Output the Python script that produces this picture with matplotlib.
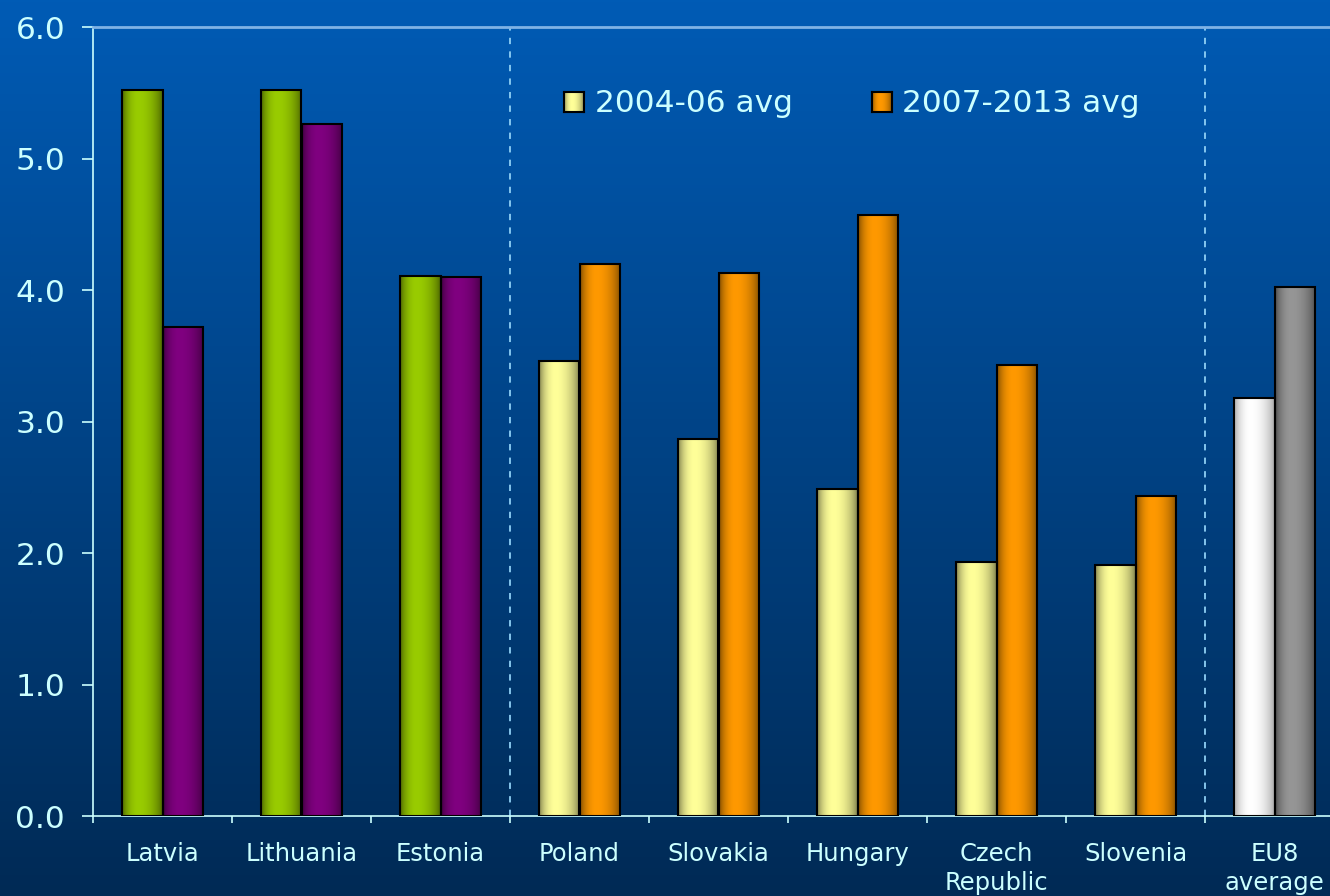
import numpy as np
import matplotlib
matplotlib.use("Agg")
import matplotlib.pyplot as plt
from matplotlib.colors import to_rgb

# ---- data ----
categories = ["Latvia", "Lithuania", "Estonia", "Poland", "Slovakia",
              "Hungary", "Czech\nRepublic", "Slovenia", "EU8\naverage"]
avg_2004_06 = [5.52, 5.52, 4.11, 3.46, 2.87, 2.49, 1.93, 1.91, 3.18]
avg_2007_13 = [3.72, 5.26, 4.10, 4.20, 4.13, 4.57, 3.43, 2.43, 4.02]
colors_a = ["#99CC00"] * 3 + ["#FFFF99"] * 5 + ["#FFFFFF"]
colors_b = ["#800080"] * 3 + ["#FF9900"] * 5 + ["#969696"]
legend_labels = ["2004-06 avg", "2007-2013 avg"]
legend_colors = ["#FFFF99", "#FF9900"]
yticks = [0, 1, 2, 3, 4, 5, 6]
separators = [2.5, 7.5]

TC = "#CCFFFF"
plt.rcParams["font.family"] = ["DejaVu Sans"]

W, H = 1330, 896
fig = plt.figure(figsize=(W / 100, H / 100), dpi=100)

# background gradient
bg = fig.add_axes([0, 0, 1, 1], zorder=0)
bg.axis("off")
g = np.linspace(0, 1, 256)[:, None, None]
top = np.array(to_rgb("#005BB5"))
bot = np.array(to_rgb("#002A55"))
bgimg = top * (1 - g) + bot * g
bg.imshow(bgimg, aspect="auto", extent=[0, 1, 0, 1])
bg.set_xlim(0, 1); bg.set_ylim(0, 1)


def shade_profile(n=200, peak=0.4, lo=0.45):
    t = np.linspace(0, 1, n)
    s = np.where(t < peak, t / peak * 0.5, 0.5 + (t - peak) / (1 - peak) * 0.5)
    return lo + (1 - lo) * np.sin(np.pi * s) ** 0.6


def cyl_img(color, lo=0.45):
    f = shade_profile(lo=lo)
    base = np.array(to_rgb(color))
    return (base[None, :] * f[:, None])[None, :, :]


ax = fig.add_axes([93 / W, 80 / H, 1251 / W, 789 / H], zorder=1)
ax.patch.set_alpha(0)

x = np.arange(len(categories))
w = 0.288
bars_a = ax.bar(x - w / 2, avg_2004_06, w, facecolor="none",
                edgecolor="black", lw=1.5, zorder=3)
bars_b = ax.bar(x + w / 2, avg_2007_13, w, facecolor="none",
                edgecolor="black", lw=1.5, zorder=3)
for bars, cols in ((bars_a, colors_a), (bars_b, colors_b)):
    for b, c in zip(bars, cols):
        x0, y0 = b.get_x(), b.get_y()
        im = ax.imshow(cyl_img(c, lo=0.6 if c == "#FFFFFF" else 0.42),
                       extent=[x0, x0 + b.get_width(), y0, y0 + b.get_height()],
                       aspect="auto", zorder=2)
        im.set_clip_path(b)

for s in separators:
    ax.axvline(s, color="#8FD0F5", lw=1.3, ls=(0, (3.5, 4)), zorder=1)

ax.set_xlim(-0.5, len(categories) - 0.5)
ax.set_ylim(yticks[0], yticks[-1])

ax.set_xticks(np.arange(len(categories)) - 0.5)
ax.set_xticklabels([])
ax.set_xticks(x, minor=True)
ax.set_xticklabels(categories, minor=True, linespacing=1.25)
ax.tick_params(axis="x", which="minor", length=0, pad=19, labelsize=17.5,
               labelcolor=TC)
ax.tick_params(axis="x", which="major", length=5, width=1.2, color=TC)

ax.set_yticks(yticks)
ax.set_yticklabels([f"{v:.1f}" for v in yticks])
ax.tick_params(axis="y", length=8, width=1.2, color=TC, pad=12,
               labelsize=22.5, labelcolor=TC)

for side in ("left", "bottom"):
    ax.spines[side].set_color(TC)
    ax.spines[side].set_linewidth(1.2)
ax.spines["top"].set_color("#7FB2E5")
ax.spines["top"].set_linewidth(2)
ax.spines["right"].set_visible(False)

# legend
sw_pos = [(564, 92), (872, 92)]
txt_x = [595, 902]
for (px, py), tx, lab, col in zip(sw_pos, txt_x, legend_labels, legend_colors):
    sax = fig.add_axes([px / W, 1 - (py + 20) / H, 20 / W, 20 / H], zorder=2)
    sax.imshow(cyl_img(col), aspect="auto", extent=[0, 1, 0, 1])
    sax.set_xticks([]); sax.set_yticks([])
    for sp in sax.spines.values():
        sp.set_color("black"); sp.set_linewidth(1.5)
    fig.text(tx / W, 1 - 112 / H, lab, va="baseline", ha="left",
             fontsize=22.5, color=TC)

fig.savefig("out.png", dpi=100)
